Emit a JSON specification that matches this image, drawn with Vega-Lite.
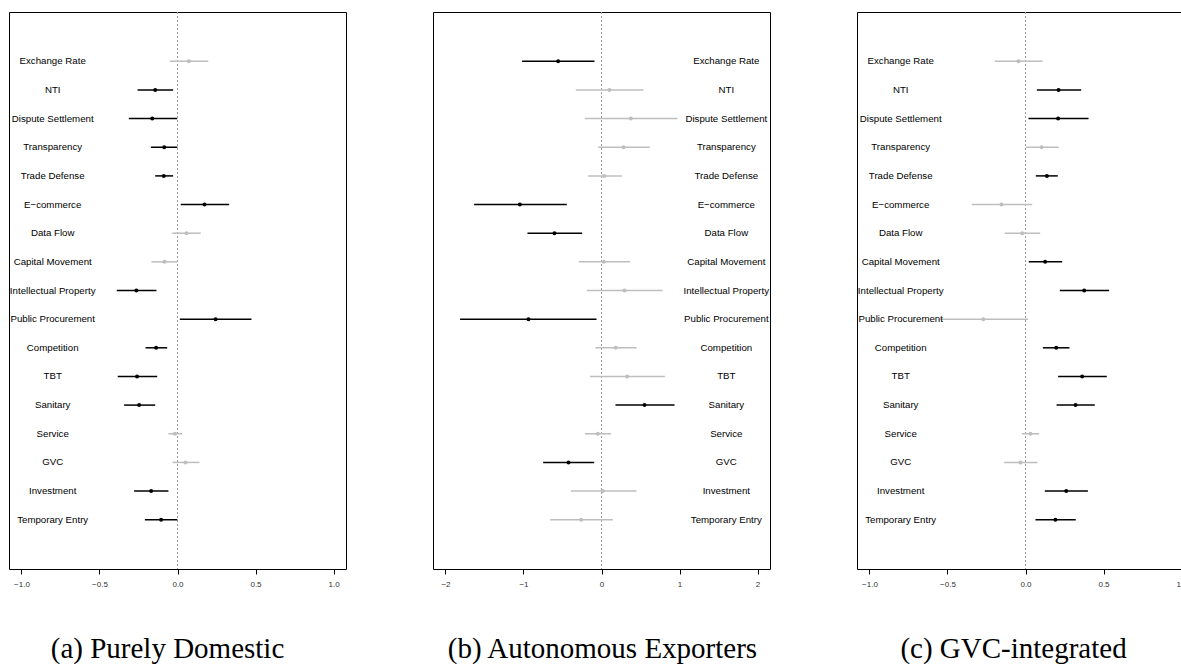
{
  "$schema": "https://vega.github.io/schema/vega-lite/v6.json",
  "padding": {"left": 8, "top": 11, "right": 0, "bottom": 0},
  "background": "white",
  "data": {"values": [
    {"p": "a", "k": 1, "v": "Exchange Rate", "est": 0.073, "lo": -0.049, "hi": 0.197, "s": "ns"},
    {"p": "a", "k": 2, "v": "NTI", "est": -0.143, "lo": -0.256, "hi": -0.028, "s": "sig"},
    {"p": "a", "k": 3, "v": "Dispute Settlement", "est": -0.162, "lo": -0.312, "hi": -0.002, "s": "sig"},
    {"p": "a", "k": 4, "v": "Transparency", "est": -0.085, "lo": -0.171, "hi": -0.001, "s": "sig"},
    {"p": "a", "k": 5, "v": "Trade Defense", "est": -0.088, "lo": -0.143, "hi": -0.028, "s": "sig"},
    {"p": "a", "k": 6, "v": "E−commerce", "est": 0.173, "lo": 0.021, "hi": 0.331, "s": "sig"},
    {"p": "a", "k": 7, "v": "Data Flow", "est": 0.058, "lo": -0.034, "hi": 0.149, "s": "ns"},
    {"p": "a", "k": 8, "v": "Capital Movement", "est": -0.083, "lo": -0.167, "hi": 0.001, "s": "ns"},
    {"p": "a", "k": 9, "v": "Intellectual Property", "est": -0.263, "lo": -0.389, "hi": -0.135, "s": "sig"},
    {"p": "a", "k": 10, "v": "Public Procurement", "est": 0.244, "lo": 0.015, "hi": 0.474, "s": "sig"},
    {"p": "a", "k": 11, "v": "Competition", "est": -0.137, "lo": -0.205, "hi": -0.066, "s": "sig"},
    {"p": "a", "k": 12, "v": "TBT", "est": -0.259, "lo": -0.383, "hi": -0.130, "s": "sig"},
    {"p": "a", "k": 13, "v": "Sanitary", "est": -0.246, "lo": -0.342, "hi": -0.143, "s": "sig"},
    {"p": "a", "k": 14, "v": "Service", "est": -0.017, "lo": -0.058, "hi": 0.030, "s": "ns"},
    {"p": "a", "k": 15, "v": "GVC", "est": 0.051, "lo": -0.032, "hi": 0.141, "s": "ns"},
    {"p": "a", "k": 16, "v": "Investment", "est": -0.169, "lo": -0.278, "hi": -0.058, "s": "sig"},
    {"p": "a", "k": 17, "v": "Temporary Entry", "est": -0.105, "lo": -0.209, "hi": -0.001, "s": "sig"},
    {"p": "b", "k": 1, "v": "Exchange Rate", "est": -0.556, "lo": -1.018, "hi": -0.090, "s": "sig"},
    {"p": "b", "k": 2, "v": "NTI", "est": 0.102, "lo": -0.329, "hi": 0.538, "s": "ns"},
    {"p": "b", "k": 3, "v": "Dispute Settlement", "est": 0.376, "lo": -0.214, "hi": 0.974, "s": "ns"},
    {"p": "b", "k": 4, "v": "Transparency", "est": 0.282, "lo": -0.043, "hi": 0.619, "s": "ns"},
    {"p": "b", "k": 5, "v": "Trade Defense", "est": 0.034, "lo": -0.171, "hi": 0.260, "s": "ns"},
    {"p": "b", "k": 6, "v": "E−commerce", "est": -1.047, "lo": -1.633, "hi": -0.444, "s": "sig"},
    {"p": "b", "k": 7, "v": "Data Flow", "est": -0.603, "lo": -0.949, "hi": -0.248, "s": "sig"},
    {"p": "b", "k": 8, "v": "Capital Movement", "est": 0.030, "lo": -0.291, "hi": 0.367, "s": "ns"},
    {"p": "b", "k": 9, "v": "Intellectual Property", "est": 0.295, "lo": -0.188, "hi": 0.782, "s": "ns"},
    {"p": "b", "k": 10, "v": "Public Procurement", "est": -0.936, "lo": -1.813, "hi": -0.064, "s": "sig"},
    {"p": "b", "k": 11, "v": "Competition", "est": 0.183, "lo": -0.077, "hi": 0.449, "s": "ns"},
    {"p": "b", "k": 12, "v": "TBT", "est": 0.329, "lo": -0.146, "hi": 0.812, "s": "ns"},
    {"p": "b", "k": 13, "v": "Sanitary", "est": 0.551, "lo": 0.179, "hi": 0.936, "s": "sig"},
    {"p": "b", "k": 14, "v": "Service", "est": -0.047, "lo": -0.214, "hi": 0.124, "s": "ns"},
    {"p": "b", "k": 15, "v": "GVC", "est": -0.423, "lo": -0.748, "hi": -0.094, "s": "sig"},
    {"p": "b", "k": 16, "v": "Investment", "est": 0.017, "lo": -0.393, "hi": 0.449, "s": "ns"},
    {"p": "b", "k": 17, "v": "Temporary Entry", "est": -0.261, "lo": -0.658, "hi": 0.145, "s": "ns"},
    {"p": "c", "k": 1, "v": "Exchange Rate", "est": -0.045, "lo": -0.197, "hi": 0.109, "s": "ns"},
    {"p": "c", "k": 2, "v": "NTI", "est": 0.212, "lo": 0.073, "hi": 0.357, "s": "sig"},
    {"p": "c", "k": 3, "v": "Dispute Settlement", "est": 0.209, "lo": 0.019, "hi": 0.404, "s": "sig"},
    {"p": "c", "k": 4, "v": "Transparency", "est": 0.103, "lo": 0.002, "hi": 0.212, "s": "ns"},
    {"p": "c", "k": 5, "v": "Trade Defense", "est": 0.137, "lo": 0.066, "hi": 0.207, "s": "sig"},
    {"p": "c", "k": 6, "v": "E−commerce", "est": -0.154, "lo": -0.344, "hi": 0.043, "s": "ns"},
    {"p": "c", "k": 7, "v": "Data Flow", "est": -0.021, "lo": -0.133, "hi": 0.094, "s": "ns"},
    {"p": "c", "k": 8, "v": "Capital Movement", "est": 0.126, "lo": 0.021, "hi": 0.235, "s": "sig"},
    {"p": "c", "k": 9, "v": "Intellectual Property", "est": 0.376, "lo": 0.220, "hi": 0.536, "s": "sig"},
    {"p": "c", "k": 10, "v": "Public Procurement", "est": -0.271, "lo": -0.550, "hi": 0.017, "s": "ns"},
    {"p": "c", "k": 11, "v": "Competition", "est": 0.197, "lo": 0.111, "hi": 0.282, "s": "sig"},
    {"p": "c", "k": 12, "v": "TBT", "est": 0.363, "lo": 0.209, "hi": 0.521, "s": "sig"},
    {"p": "c", "k": 13, "v": "Sanitary", "est": 0.321, "lo": 0.199, "hi": 0.444, "s": "sig"},
    {"p": "c", "k": 14, "v": "Service", "est": 0.032, "lo": -0.023, "hi": 0.088, "s": "ns"},
    {"p": "c", "k": 15, "v": "GVC", "est": -0.032, "lo": -0.137, "hi": 0.077, "s": "ns"},
    {"p": "c", "k": 16, "v": "Investment", "est": 0.261, "lo": 0.124, "hi": 0.400, "s": "sig"},
    {"p": "c", "k": 17, "v": "Temporary Entry", "est": 0.192, "lo": 0.064, "hi": 0.322, "s": "sig"}
  ]},
  "spacing": 87,
  "bounds": "flush",
  "hconcat": [
    {
      "width": 337, "height": 557,
      "title": {"text": "(a) Purely Domestic", "orient": "bottom", "font": "Liberation Serif", "fontSize": 29, "fontWeight": "normal", "color": "black", "offset": 47, "dx": -10},
      "transform": [{"filter": "datum.p == 'a'"}],
      "layer": [
        {"mark": {"type": "rule", "color": "#9a9a9a", "strokeDash": [2, 2], "strokeWidth": 1},
         "encoding": {"x": {"datum": 0, "type": "quantitative", "scale": {"domain": [-1.08, 1.08], "nice": false, "zero": false}, "axis": {"values": [-1, -0.5, 0, 0.5, 1], "format": ".1f", "title": null}}}},
        {"mark": {"type": "rule", "strokeWidth": 1.5},
         "encoding": {
           "x": {"field": "lo", "type": "quantitative", "title": null},
           "x2": {"field": "hi"},
           "y": {"field": "k", "type": "quantitative", "scale": {"domain": [-0.72, 18.72], "reverse": true, "nice": false, "zero": false}, "axis": null},
           "color": {"field": "s", "type": "nominal", "scale": {"domain": ["sig", "ns"], "range": ["black", "#bebebe"]}, "legend": null}}},
        {"mark": {"type": "point", "filled": true, "size": 16, "opacity": 1},
         "encoding": {
           "x": {"field": "est", "type": "quantitative", "title": null},
           "y": {"field": "k", "type": "quantitative"},
           "color": {"field": "s", "type": "nominal", "legend": null}}},
        {"mark": {"type": "text", "font": "Liberation Sans", "fontSize": 9.7, "align": "center", "baseline": "middle", "color": "black"},
         "encoding": {
           "x": {"datum": -0.8, "type": "quantitative"},
           "y": {"field": "k", "type": "quantitative"},
           "text": {"field": "v"}}}
      ]
    },
    {
      "width": 337, "height": 557,
      "title": {"text": "(b) Autonomous Exporters", "orient": "bottom", "font": "Liberation Serif", "fontSize": 29, "fontWeight": "normal", "color": "black", "offset": 47, "dx": 1},
      "transform": [{"filter": "datum.p == 'b'"}],
      "layer": [
        {"mark": {"type": "rule", "color": "#9a9a9a", "strokeDash": [2, 2], "strokeWidth": 1},
         "encoding": {"x": {"datum": 0, "type": "quantitative", "scale": {"domain": [-2.16, 2.16], "nice": false, "zero": false}, "axis": {"values": [-2, -1, 0, 1, 2], "format": "d", "title": null}}}},
        {"mark": {"type": "rule", "strokeWidth": 1.5},
         "encoding": {
           "x": {"field": "lo", "type": "quantitative", "title": null},
           "x2": {"field": "hi"},
           "y": {"field": "k", "type": "quantitative", "scale": {"domain": [-0.72, 18.72], "reverse": true, "nice": false, "zero": false}, "axis": null},
           "color": {"field": "s", "type": "nominal", "scale": {"domain": ["sig", "ns"], "range": ["black", "#bebebe"]}, "legend": null}}},
        {"mark": {"type": "point", "filled": true, "size": 16, "opacity": 1},
         "encoding": {
           "x": {"field": "est", "type": "quantitative", "title": null},
           "y": {"field": "k", "type": "quantitative"},
           "color": {"field": "s", "type": "nominal", "legend": null}}},
        {"mark": {"type": "text", "font": "Liberation Sans", "fontSize": 9.7, "align": "center", "baseline": "middle", "color": "black"},
         "encoding": {
           "x": {"datum": 1.6, "type": "quantitative"},
           "y": {"field": "k", "type": "quantitative"},
           "text": {"field": "v"}}}
      ]
    },
    {
      "width": 337, "height": 557,
      "title": {"text": "(c) GVC-integrated", "orient": "bottom", "font": "Liberation Serif", "fontSize": 29, "fontWeight": "normal", "color": "black", "offset": 47, "dx": -12},
      "transform": [{"filter": "datum.p == 'c'"}],
      "layer": [
        {"mark": {"type": "rule", "color": "#9a9a9a", "strokeDash": [2, 2], "strokeWidth": 1},
         "encoding": {"x": {"datum": 0, "type": "quantitative", "scale": {"domain": [-1.08, 1.08], "nice": false, "zero": false}, "axis": {"values": [-1, -0.5, 0, 0.5, 1], "format": ".1f", "title": null}}}},
        {"mark": {"type": "rule", "strokeWidth": 1.5},
         "encoding": {
           "x": {"field": "lo", "type": "quantitative", "title": null},
           "x2": {"field": "hi"},
           "y": {"field": "k", "type": "quantitative", "scale": {"domain": [-0.72, 18.72], "reverse": true, "nice": false, "zero": false}, "axis": null},
           "color": {"field": "s", "type": "nominal", "scale": {"domain": ["sig", "ns"], "range": ["black", "#bebebe"]}, "legend": null}}},
        {"mark": {"type": "point", "filled": true, "size": 16, "opacity": 1},
         "encoding": {
           "x": {"field": "est", "type": "quantitative", "title": null},
           "y": {"field": "k", "type": "quantitative"},
           "color": {"field": "s", "type": "nominal", "legend": null}}},
        {"mark": {"type": "text", "font": "Liberation Sans", "fontSize": 9.7, "align": "center", "baseline": "middle", "color": "black"},
         "encoding": {
           "x": {"datum": -0.8, "type": "quantitative"},
           "y": {"field": "k", "type": "quantitative"},
           "text": {"field": "v"}}}
      ]
    }
  ],
  "config": {
    "view": {"stroke": "black", "strokeWidth": 1},
    "axis": {"grid": false, "domain": false, "ticks": true, "tickColor": "black", "tickSize": 5, "tickWidth": 1, "labelFont": "Liberation Sans", "labelFontSize": 8, "labelColor": "#333", "labelPadding": 6}
  }
}
